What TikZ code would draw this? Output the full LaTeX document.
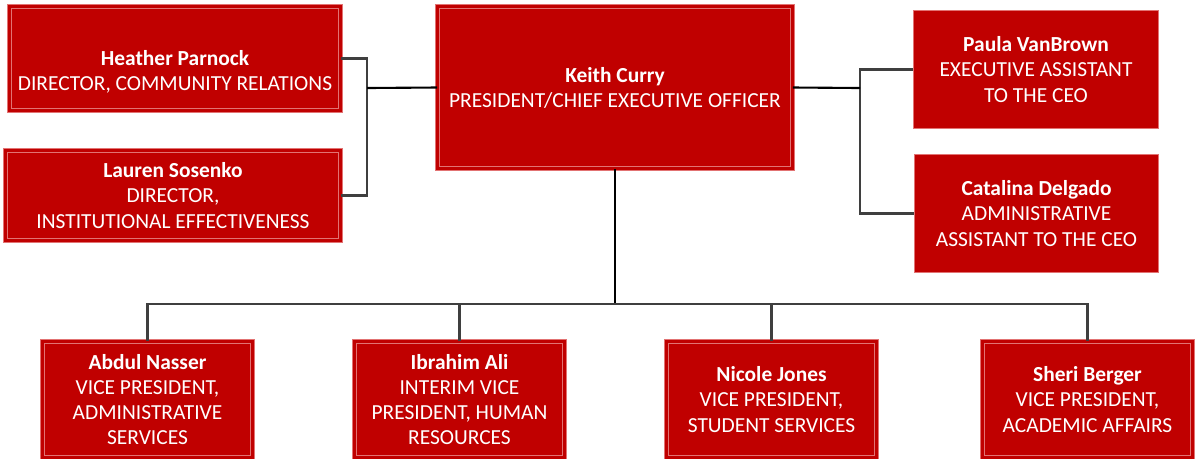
\documentclass[tikz,border=0pt]{standalone}
\usepackage{fontspec}
\setmainfont{Carlito}
\usetikzlibrary{calc}

\definecolor{boxred}{HTML}{C00000}
\definecolor{boxedge}{HTML}{E27373}
\definecolor{linkgray}{HTML}{3F3F3F}

\begin{document}
\begin{tikzpicture}[x=0.02cm, y=-0.02cm,
		person/.style={fill=boxred, draw=boxedge, double=boxred, double distance=2.2pt, line width=0.45pt, text=white, align=center, inner sep=0pt, font=\fontsize{12.2}{14.3}\selectfont},
		plainbox/.style={fill=boxred, draw=boxedge, line width=0.5pt, text=white, align=center, inner sep=0pt, font=\fontsize{12.2}{14.3}\selectfont},
		link/.style={draw=linkgray, line width=1.2pt}]
	\useasboundingbox [fill=white] (0,0) rectangle (1196,458);
	
	\node [person, minimum width=7.10cm, minimum height=3.24cm] (ceo) at (615,87.5) {\textbf{Keith Curry}\\PRESIDENT/CHIEF EXECUTIVE OFFICER};
	\node [person, minimum width=6.62cm, minimum height=2.08cm] (heather) at (175,58.5) {\rule{0pt}{23.5pt}\textbf{Heather Parnock}\\DIRECTOR, COMMUNITY RELATIONS};
	\node [person, minimum width=6.70cm, minimum height=1.80cm] (lauren) at (173,195.5) {\textbf{Lauren Sosenko}\\DIRECTOR,\\INSTITUTIONAL EFFECTIVENESS};
	\node [plainbox, minimum width=4.90cm, minimum height=2.36cm] (paula) at (1036,69.5) {\textbf{Paula VanBrown}\\EXECUTIVE ASSISTANT\\TO THE CEO};
	\node [plainbox, minimum width=4.88cm, minimum height=2.36cm] (catalina) at (1036.5,213.5) {\textbf{Catalina Delgado}\\ADMINISTRATIVE\\ASSISTANT TO THE CEO};
	
	% vice presidents
	\node [person, minimum width=4.20cm, minimum height=2.32cm] (abdul) at (147.5,399.5) {\textbf{Abdul Nasser}\\VICE PRESIDENT,\\ADMINISTRATIVE\\SERVICES};
	\node [person, minimum width=4.20cm, minimum height=2.32cm] (ibrahim) at (459.5,399.5) {\textbf{Ibrahim Ali}\\INTERIM VICE\\PRESIDENT, HUMAN\\RESOURCES};
	\node [person, minimum width=4.20cm, minimum height=2.32cm] (nicole) at (771.5,399.5) {\textbf{Nicole Jones}\\VICE PRESIDENT,\\STUDENT SERVICES};
	\node [person, minimum width=4.20cm, minimum height=2.32cm] (sheri) at (1087.5,399.5) {\textbf{Sheri Berger}\\VICE PRESIDENT,\\ACADEMIC AFFAIRS};
	
	\coordinate (lbus) at (367,88);
	\coordinate (rbus) at (860,88);
	\coordinate (bbus) at (615,304);
	
	\draw [link] (heather.east) -| (lbus) |- (lauren.east);
	\draw [link, draw=black] (lbus) -- (ceo.west);
	\draw [link] (paula.west) -| (rbus) |- (catalina.west);
	\draw [link, draw=black] (ceo.east) -- (rbus);
	\draw [link, draw=black] (ceo.south) -- (bbus);
	\draw [link] (abdul.north) |- (bbus) -| (sheri.north);
	\draw [link] (ibrahim.north) -- (ibrahim.north |- bbus);
	\draw [link] (nicole.north) -- (nicole.north |- bbus);
\end{tikzpicture}
\end{document}
